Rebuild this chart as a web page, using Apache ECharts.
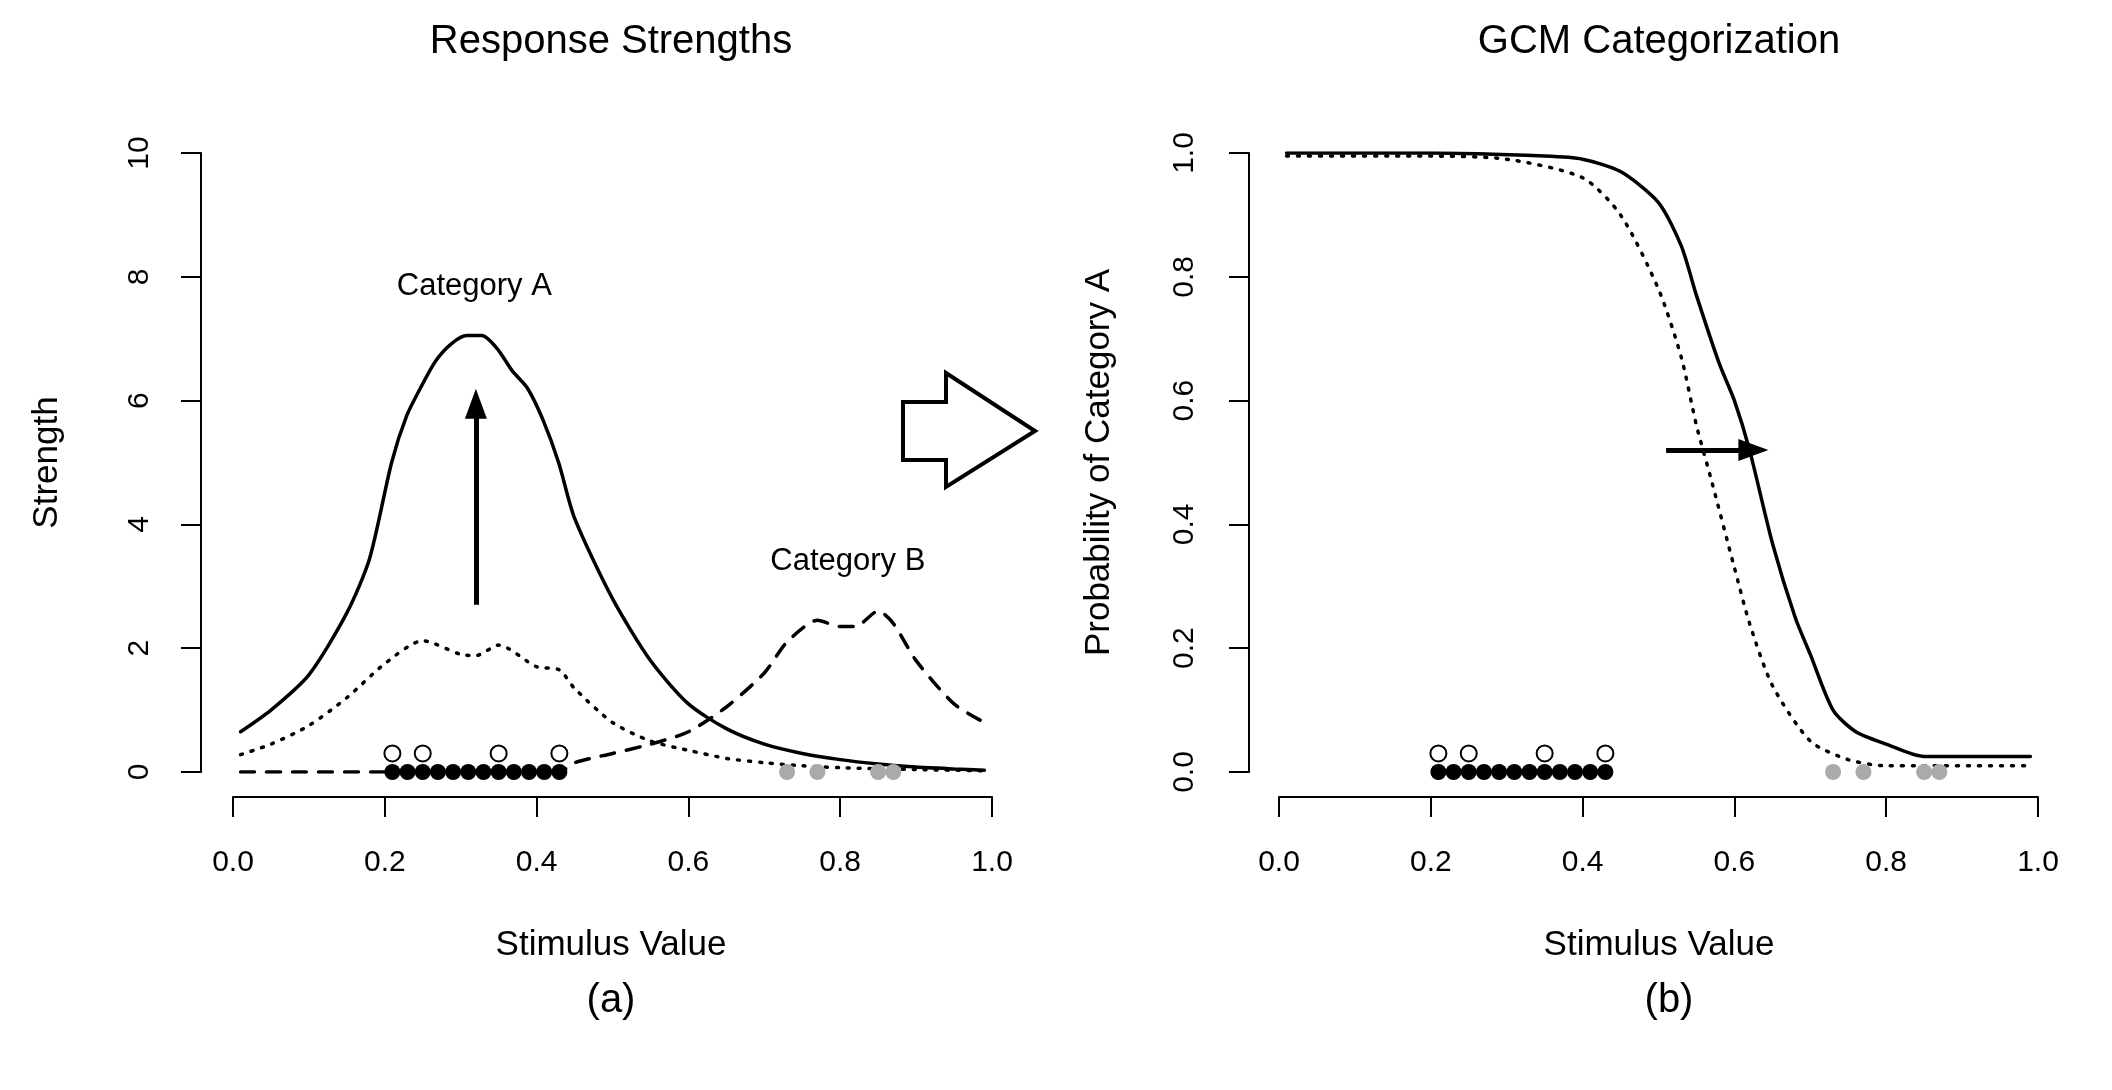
<!DOCTYPE html>
<html>
<head>
<meta charset="utf-8">
<script src="https://cdn.jsdelivr.net/npm/echarts@6/dist/echarts.min.js"></script>
<style>html,body{margin:0;background:#fff}#main{width:2112px;height:1090px}</style>
</head>
<body>
<div id="main"></div>
<script>
// stimulus points
var catA = [0.21, 0.23, 0.25, 0.27, 0.29, 0.31, 0.33, 0.35, 0.37, 0.39, 0.41, 0.43];
var catAOpen = [0.21, 0.25, 0.35, 0.43];
var catB = [0.73, 0.77, 0.85, 0.87];

// panel (a) curves
var strongX = [0.01, 0.05, 0.1, 0.15, 0.18, 0.209, 0.229, 0.249, 0.267, 0.288, 0.308, 0.328, 0.348, 0.368, 0.388, 0.408, 0.429, 0.45, 0.5, 0.55, 0.6, 0.65, 0.7, 0.75, 0.8, 0.85, 0.9, 0.95, 0.99];
var strongY = [0.65, 1.0, 1.57, 2.57, 3.45, 5.0, 5.76, 6.25, 6.64, 6.92, 7.05, 7.05, 6.84, 6.48, 6.2, 5.7, 5.0, 4.1, 2.8, 1.8, 1.1, 0.7, 0.45, 0.3, 0.2, 0.13, 0.08, 0.05, 0.03];
var weakX = [0.01, 0.05, 0.1, 0.15, 0.2, 0.25, 0.3, 0.32, 0.35, 0.4, 0.43, 0.45, 0.5, 0.55, 0.6, 0.65, 0.7, 0.75, 0.8, 0.9, 0.99];
var weakY = [0.28, 0.45, 0.75, 1.2, 1.75, 2.12, 1.9, 1.88, 2.05, 1.7, 1.65, 1.35, 0.8, 0.5, 0.35, 0.22, 0.15, 0.1, 0.07, 0.04, 0.02];
var bX = [0.01, 0.43, 0.45, 0.5, 0.55, 0.6, 0.65, 0.7, 0.73, 0.77, 0.8, 0.82, 0.85, 0.87, 0.9, 0.95, 0.99];
var bY = [0, 0, 0.15, 0.3, 0.45, 0.65, 1.05, 1.6, 2.1, 2.45, 2.35, 2.35, 2.6, 2.4, 1.8, 1.1, 0.8];

// panel (b) curves
var probX = [0.01, 0.2, 0.35, 0.4, 0.45, 0.5, 0.53, 0.55, 0.58, 0.6, 0.62, 0.65, 0.68, 0.7, 0.73, 0.76, 0.8, 0.85, 0.99];
var probY = [1.0, 1.0, 0.995, 0.99, 0.97, 0.92, 0.85, 0.77, 0.66, 0.6, 0.52, 0.37, 0.25, 0.19, 0.1, 0.065, 0.045, 0.025, 0.025];
var probWX = [0.01, 0.2, 0.3, 0.4, 0.45, 0.5, 0.53, 0.55, 0.57, 0.6, 0.62, 0.65, 0.7, 0.75, 0.8, 0.99];
var probWY = [0.995, 0.995, 0.99, 0.96, 0.9, 0.78, 0.67, 0.56, 0.47, 0.33, 0.24, 0.14, 0.05, 0.02, 0.01, 0.01];

function pairs(xs, ys) { return xs.map(function (x, i) { return [x, ys[i]]; }); }
function flat(xs, y) { return xs.map(function (x) { return [x, y]; }); }

var font = 'Liberation Sans, Arial, sans-serif';
var lblStyle = { color: '#000', fontSize: 30, fontFamily: font };
var axLine = { show: true, lineStyle: { color: '#000', width: 2 } };
var axTick = { show: true, length: 20, lineStyle: { color: '#000', width: 2 } };

function panel(i, left, yaxisX, yMax, yInt, yFmt, yName, nameGap, yMargin) {
  return {
    grids: [
      { left: left, width: 759, top: 153, height: 619 },            // data
      { left: yaxisX, width: 1, top: 153, height: 619 },            // y axis
      { left: left, width: 759, top: 796, height: 1 }               // x axis
    ],
    xAxes: [
      { gridIndex: 3 * i, type: 'value', min: 0, max: 1, show: false },
      { gridIndex: 3 * i + 1, type: 'value', min: 0, max: 1, show: false },
      { gridIndex: 3 * i + 2, type: 'value', min: 0, max: 1, interval: 0.2, position: 'bottom',
        axisLine: axLine, axisTick: axTick, splitLine: { show: false },
        axisLabel: Object.assign({ margin: 51, formatter: function (v) { return v.toFixed(1); } }, lblStyle) }
    ],
    yAxes: [
      { gridIndex: 3 * i, type: 'value', min: 0, max: yMax, show: false },
      { gridIndex: 3 * i + 1, type: 'value', min: 0, max: yMax, interval: yInt,
        axisLine: axLine, axisTick: axTick, splitLine: { show: false },
        axisLabel: Object.assign({ margin: yMargin, rotate: 90, formatter: yFmt }, lblStyle),
        name: yName, nameLocation: 'middle', nameGap: nameGap, nameRotate: 90,
        nameTextStyle: { color: '#000', fontSize: 35, fontFamily: font } },
      { gridIndex: 3 * i + 2, type: 'value', show: false }
    ]
  };
}

var pa = panel(0, 233, 201, 10, 2, function (v) { return String(v); }, 'Strength', 136, 46);
var pb = panel(1, 1279, 1249, 1, 0.2, function (v) { return v.toFixed(1); }, 'Probability of Category A', 132, 49);

function line(ax, data, type) {
  return { type: 'line', xAxisIndex: ax, yAxisIndex: ax, data: data, symbol: 'none', silent: true, smooth: 0.25,
    lineStyle: { color: '#000', width: 3.5, type: type, cap: 'round' }, z: 2 };
}
function dots(ax, data, fill, stroke) {
  return { type: 'scatter', xAxisIndex: ax, yAxisIndex: ax, data: data, symbolSize: 16, silent: true,
    itemStyle: { color: fill, opacity: 1, borderColor: stroke, borderWidth: stroke ? 2 : 0 }, z: 3 };
}
function txt(ax, x, y, s) {
  return { type: 'scatter', xAxisIndex: ax, yAxisIndex: ax, data: [[x, y]], symbolSize: 0, silent: true,
    itemStyle: { opacity: 1 },
    label: { show: true, position: 'inside', formatter: s, color: '#000', fontSize: 31, fontFamily: font } };
}
function arrow(ax, from, to) {
  return { type: 'line', xAxisIndex: ax, yAxisIndex: ax, data: [], silent: true,
    markLine: { silent: true, symbol: ['none', 'triangle'], symbolSize: [22, 30], animation: false,
      label: { show: false }, lineStyle: { color: '#000', width: 5, type: 'solid', opacity: 1 },
      data: [[{ coord: from }, { coord: to }]] } };
}

var titleStyle = { fontSize: 40, fontWeight: 'normal', fontFamily: font, color: '#000' };
function gtext(x, y, s, size) {
  return { type: 'text', x: x, y: y, style: { text: s, fontSize: size, fontFamily: font, fill: '#000', align: 'center', verticalAlign: 'middle' } };
}

var option = {
  backgroundColor: '#fff',
  animation: false,
  grid: pa.grids.concat(pb.grids),
  xAxis: pa.xAxes.concat(pb.xAxes),
  yAxis: pa.yAxes.concat(pb.yAxes),
  graphic: [
    gtext(611, 42, 'Response Strengths', 40),
    gtext(1659, 42, 'GCM Categorization', 40),
    gtext(611, 945, 'Stimulus Value', 35),
    gtext(1659, 945, 'Stimulus Value', 35),
    gtext(611, 1001, '(a)', 40),
    gtext(1669, 1001, '(b)', 40),
    { type: 'polygon', shape: { points: [[903, 402], [946, 402], [946, 373], [1035, 431], [946, 487], [946, 460], [903, 460]] },
      style: { fill: '#fff', stroke: '#000', lineWidth: 4 } }
  ],
  series: [
    line(0, pairs(strongX, strongY), 'solid'),
    line(0, pairs(weakX, weakY), [2, 9]),
    line(0, pairs(bX, bY), [14, 12]),
    dots(0, flat(catA, 0), '#000'),
    dots(0, flat(catAOpen, 0.3), '#fff', '#000'),
    dots(0, flat(catB, 0), '#aaaaaa'),
    txt(0, 0.318, 7.85, 'Category A'),
    txt(0, 0.81, 3.4, 'Category B'),
    arrow(0, [0.32, 2.7], [0.32, 5.95]),
    line(3, pairs(probX, probY), 'solid'),
    line(3, pairs(probWX, probWY), [2, 9]),
    dots(3, flat(catA, 0), '#000'),
    dots(3, flat(catAOpen, 0.03), '#fff', '#000'),
    dots(3, flat(catB, 0), '#aaaaaa'),
    arrow(3, [0.51, 0.52], [0.625, 0.52])
  ]
};

var chart = echarts.init(document.getElementById('main'));
chart.setOption(option);
</script>
</body>
</html>
